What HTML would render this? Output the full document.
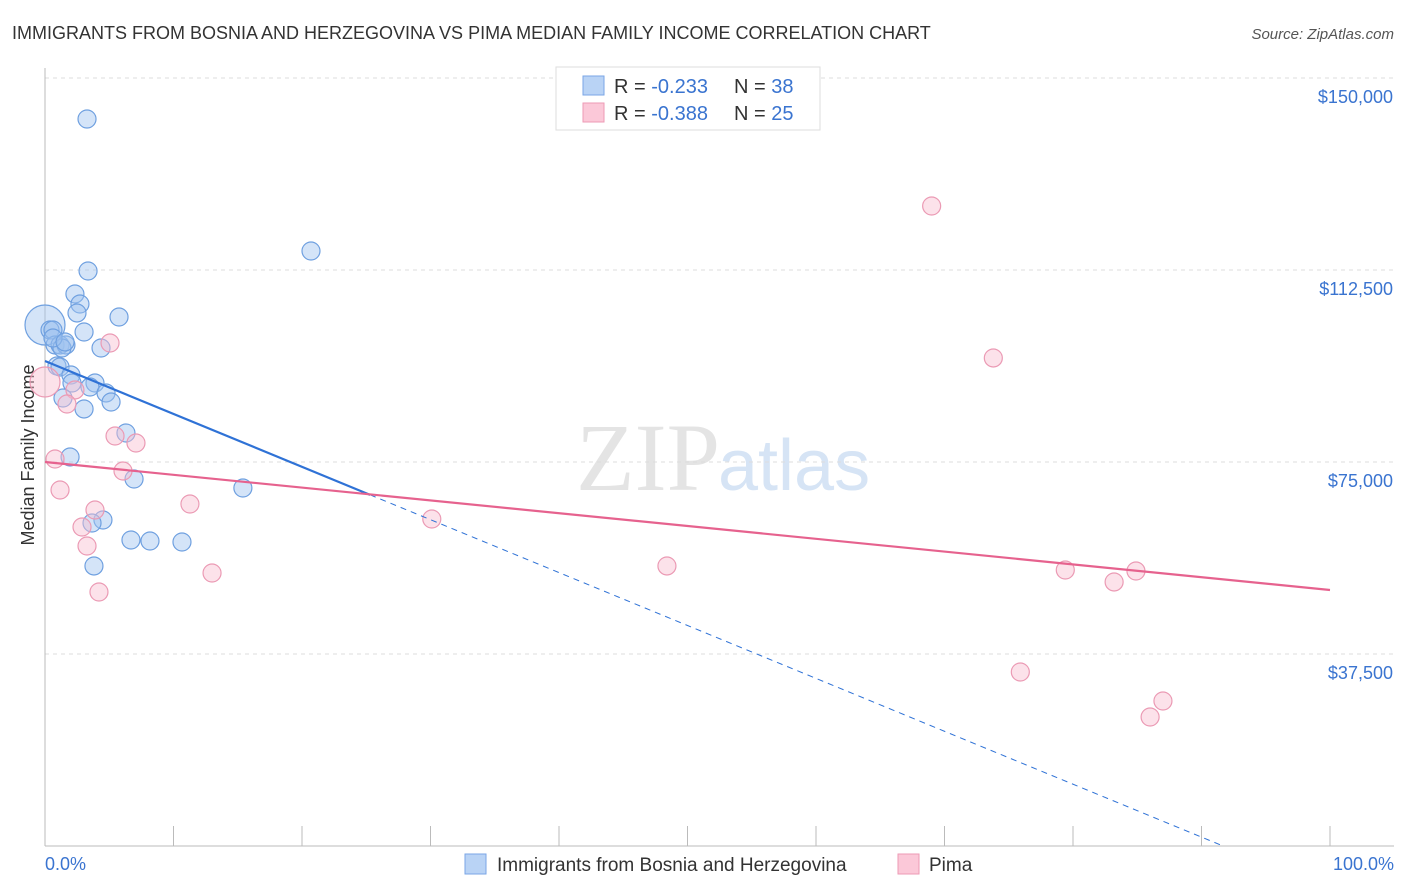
<!DOCTYPE html>
<html><head><meta charset="utf-8"><style>
body{margin:0;background:#fff;font-family:"Liberation Sans",sans-serif;}
svg{display:block}
</style></head><body>
<svg id="chart" width="1406" height="892">
<text x="12" y="39" font-size="18" fill="#333">IMMIGRANTS FROM BOSNIA AND HERZEGOVINA VS PIMA MEDIAN FAMILY INCOME CORRELATION CHART</text>
<text x="1394" y="39" font-size="15" fill="#555" font-style="italic" text-anchor="end">Source: ZipAtlas.com</text>
<text x="720" y="490" font-size="96" fill="#e4e4e4" text-anchor="end" font-family="Liberation Serif">ZIP</text>
<text x="718" y="490" font-size="72" fill="#d6e4f5">atlas</text>
<text transform="translate(34,455) rotate(-90)" font-size="18" fill="#333" text-anchor="middle">Median Family Income</text>
<g id="grid"></g><g id="marks"></g>
<g>
<rect x="556" y="67" width="264" height="63" fill="#fff" stroke="#ddd"/>
<rect x="583" y="76" width="21" height="19" fill="#b9d3f5" stroke="#7aa6e6"/>
<rect x="583" y="103" width="21" height="19" fill="#fbc8d8" stroke="#ee9ab5"/>
<text x="614" y="93" font-size="20" fill="#333">R = <tspan fill="#3a74d0">-0.233</tspan><tspan x="734">N = </tspan><tspan fill="#3a74d0">38</tspan></text>
<text x="614" y="120" font-size="20" fill="#333">R = <tspan fill="#3a74d0">-0.388</tspan><tspan x="734">N = </tspan><tspan fill="#3a74d0">25</tspan></text>
</g>
<g>
<rect x="465" y="854" width="21" height="20" fill="#b9d3f5" stroke="#7aa6e6"/>
<text x="497" y="871" font-size="19" fill="#333">Immigrants from Bosnia and Herzegovina</text>
<rect x="898" y="854" width="21" height="20" fill="#fbc8d8" stroke="#ee9ab5"/>
<text x="929" y="871" font-size="19" fill="#333">Pima</text>
</g>
<text x="45" y="870" font-size="18" fill="#3a74d0">0.0%</text>
<text x="1394" y="870" font-size="18" fill="#3a74d0" text-anchor="end">100.0%</text>
</svg>
<script>
const yTicks=[150000,112500,75000,37500];
const yTickLabels=["$150,000","$112,500","$75,000","$37,500"];
const blueX=[3.27,20.7,3.35,2.33,2.72,2.49,5.76,3.04,0,0.39,0.62,0.78,1.17,1.63,1.32,4.36,0.93,1.17,2.02,3.89,2.1,3.5,4.75,5.14,1.4,3.04,6.3,1.95,6.93,15.4,4.51,3.66,6.69,8.17,10.66,3.81,0.62,1.56];
const blueY=[141992,116211,112305,107813,105859,104102,103320,100391,101758,100781,100781,97852,97852,97852,97266,97266,93750,93555,91992,90430,90430,89648,88477,86719,87500,85352,80664,75977,71680,69922,63672,63086,59766,59570,59375,54688,99219,98438];
const blueR=[9,9,9,9,9,9,9,9,20,9,9,9,9,9,9,9,9,9,9,9,9,9,9,9,9,9,9,9,9,9,9,9,9,9,9,9,9,9];
const pinkX=[69.0,73.8,5.06,0,2.33,1.71,5.45,7.08,0.78,6.07,1.17,11.28,3.89,30.1,2.88,3.27,13.0,48.4,4.2,79.4,83.2,84.9,75.9,87.0,86.0];
const pinkY=[125000,95313,98242,90625,89063,86328,80078,78711,75586,73242,69531,66797,65625,63867,62305,58594,53320,54688,49609,53906,51563,53711,33984,28320,25195];
const pinkR=[9,9,9,15,9,9,9,9,9,9,9,9,9,9,9,9,9,9,9,9,9,9,9,9,9];
const blueTrend=[94727,-8594], blueSolidEnd=25.3;
const pinkTrend=[75000,50000];
const NS="http://www.w3.org/2000/svg";
const X=p=>45+p*12.85, Y=v=>846-v/37500*192;
function mk(t,a,parent){const e=document.createElementNS(NS,t);for(const k in a)e.setAttribute(k,a[k]);parent.appendChild(e);return e;}
const grid=document.getElementById('grid'), marks=document.getElementById('marks');
yTicks.forEach((v,i)=>{
 const l=mk('line',{x1:45,x2:1394,y1:Y(v),y2:Y(v),stroke:'#ddd','stroke-dasharray':'4,4'},grid);
 
 
 const t=mk('text',{x:1393,y:Y(v)+25,'font-size':18,fill:'#3a74d0','text-anchor':'end'},grid);
 t.textContent=yTickLabels[i];
 
 
});
const ax=mk('line',{x1:45,x2:45,y1:68,y2:846,stroke:'#bbb'},grid);


const bx=mk('line',{x1:45,x2:1394,y1:846,y2:846,stroke:'#bbb'},grid);


for(let i=0;i<=10;i++){const t=mk('line',{x1:X(i*10),x2:X(i*10),y1:826,y2:846,stroke:'#bbb'},grid);
 
 }
blueX.forEach((x,i)=>{const c=mk('circle',{cx:X(x),cy:Y(blueY[i]),r:blueR[i],fill:'rgba(160,196,240,0.45)',stroke:'#6fa0e0','stroke-width':1.2},marks);
 
 });
pinkX.forEach((x,i)=>{const c=mk('circle',{cx:X(x),cy:Y(pinkY[i]),r:pinkR[i],fill:'rgba(248,190,208,0.45)',stroke:'#eb9ab4','stroke-width':1.2},marks);
 
 });
const bAt=p=>blueTrend[0]+(blueTrend[1]-blueTrend[0])*p/100;
const b1=mk('line',{x1:X(0),y1:Y(bAt(0)),x2:X(blueSolidEnd),y2:Y(bAt(blueSolidEnd)),stroke:'#2f72d6','stroke-width':2.2},marks);


const pEnd=(0-blueTrend[0])/(blueTrend[1]-blueTrend[0])*100;
const b2=mk('line',{x1:X(blueSolidEnd),y1:Y(bAt(blueSolidEnd)),x2:X(pEnd),y2:Y(0),stroke:'#2f72d6','stroke-width':1,'stroke-dasharray':'6,5'},marks);


const p1=mk('line',{x1:X(0),y1:Y(pinkTrend[0]),x2:X(100),y2:Y(pinkTrend[1]),stroke:'#e6628e','stroke-width':2.2},marks);


</script>
</body></html>
